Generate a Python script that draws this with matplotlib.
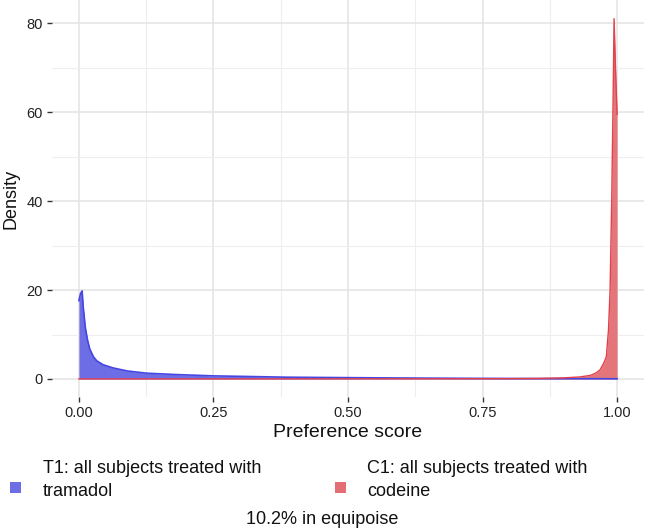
import numpy as np
import matplotlib.pyplot as plt
from matplotlib.patches import Rectangle

plt.rcParams['font.family'] = ['Liberation Sans', 'DejaVu Sans']

# density curves
t1_x = [0.0, 0.003, 0.006, 0.008, 0.012, 0.016, 0.02, 0.027, 0.033, 0.045, 0.063, 0.09, 0.126,
        0.18, 0.25, 0.32, 0.387, 0.5, 0.6, 0.7, 0.8, 0.9, 0.97, 1.0]
t1_y = [17.6, 19.2, 19.8, 16.2, 11.5, 8.8, 6.8, 5.0, 4.1, 3.2, 2.5, 1.8, 1.3,
        1.0, 0.7, 0.55, 0.4, 0.3, 0.22, 0.16, 0.11, 0.08, 0.06, 0.05]

c1_x = [0.0, 0.1, 0.3, 0.5, 0.7, 0.8, 0.85, 0.9, 0.93, 0.95, 0.96, 0.968, 0.975, 0.98,
        0.984, 0.987, 0.99, 0.9926, 0.9944, 0.997, 1.0]
c1_y = [0.02, 0.02, 0.02, 0.03, 0.05, 0.08, 0.12, 0.25, 0.45, 0.8, 1.3, 2.0, 3.5, 5.0,
        11.0, 20.0, 40.0, 63.0, 81.0, 70.0, 59.5]

x_ticks = [0.0, 0.25, 0.5, 0.75, 1.0]
x_ticklabels = ['0.00', '0.25', '0.50', '0.75', '1.00']
y_ticks = [0, 20, 40, 60, 80]

labels = ['T1: all subjects treated with\ntramadol', 'C1: all subjects treated with\ncodeine']
caption = '10.2% in equipoise'

blue_fill, blue_line = '#6d6de6', '#4646e2'
red_fill, red_line = '#e36f74', '#e2414b'

W, H = 645, 532
fig = plt.figure(figsize=(W / 100, H / 100), dpi=100)
ax = fig.add_axes([52 / W, 1 - 397 / H, 592 / W, 397 / H])

ax.fill_between(t1_x, 0, t1_y, color=blue_fill, lw=0)
ax.plot(t1_x, t1_y, color=blue_line, lw=1.2)
ax.fill_between(c1_x, 0, c1_y, color=red_fill, lw=0, alpha=0.95)
ax.plot(c1_x, c1_y, color=red_line, lw=1.0)

ax.set_xlim(-0.05, 1.05)
ax.set_ylim(-4.05, 85.2)
ax.set_xticks(x_ticks)
ax.set_xticklabels(x_ticklabels)
ax.set_yticks(y_ticks)
ax.set_xticks([0.125, 0.375, 0.625, 0.875], minor=True)
ax.set_yticks([10, 30, 50, 70], minor=True)
ax.grid(which='major', color='#e3e3e3', lw=1.1)
ax.grid(which='minor', color='#eeeeee', lw=0.8)
ax.set_axisbelow(True)
for s in ax.spines.values():
    s.set_visible(False)
ax.tick_params(which='major', length=3.5, width=1.0, color='#333333',
               labelsize=10.5, labelcolor='#222222', pad=3)
ax.tick_params(which='minor', length=0)

ax.set_xlabel('Preference score', fontsize=14, color='#111111', labelpad=3)
ax.set_ylabel('Density', fontsize=13, color='#111111', labelpad=5)

# legend below the plot
keys = [(10, 43, blue_fill), (335, 367, red_fill)]
for (kx, tx, col), lab in zip(keys, labels):
    fig.patches.append(Rectangle((kx / W, 1 - 493 / H), 11 / W, 11 / H,
                                 transform=fig.transFigure, color=col, lw=0))
    fig.text(tx / W, 1 - 480 / H, lab, fontsize=13, color='#111111',
             va='center', ha='left', linespacing=1.5)

fig.text(322 / W, 1 - 520 / H, caption, fontsize=13, color='#111111',
         ha='center', va='center')

fig.savefig('out.png', dpi=100)
